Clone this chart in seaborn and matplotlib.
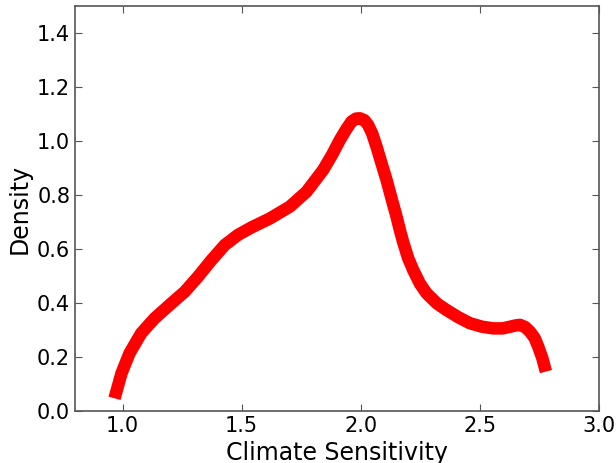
import matplotlib
matplotlib.use("Agg")
import matplotlib.pyplot as plt
import seaborn as sns
import pandas as pd

sensitivity = [0.966, 0.995, 1.029, 1.078, 1.134, 1.205, 1.261, 1.316, 1.373, 1.429,
               1.484, 1.541, 1.618, 1.702, 1.772, 1.842, 1.880, 1.912, 1.940, 1.961,
               1.980, 1.996, 2.015, 2.031, 2.048, 2.066, 2.086, 2.108, 2.129, 2.150,
               2.164, 2.178, 2.198, 2.220, 2.248, 2.276, 2.320, 2.360, 2.410, 2.458,
               2.510, 2.556, 2.595, 2.626, 2.650, 2.668, 2.690, 2.710, 2.730, 2.745,
               2.762, 2.777]
density = [0.047, 0.139, 0.214, 0.288, 0.343, 0.399, 0.442, 0.497, 0.559, 0.615,
           0.652, 0.680, 0.713, 0.757, 0.812, 0.893, 0.950, 1.004, 1.045, 1.072,
           1.083, 1.084, 1.077, 1.059, 1.027, 0.979, 0.920, 0.856, 0.787, 0.720,
           0.670, 0.625, 0.568, 0.522, 0.472, 0.436, 0.398, 0.374, 0.347, 0.325,
           0.312, 0.306, 0.306, 0.312, 0.317, 0.319, 0.311, 0.294, 0.270, 0.238,
           0.196, 0.146]

xticks = [1.0, 1.5, 2.0, 2.5, 3.0]
yticks = [0.0, 0.2, 0.4, 0.6, 0.8, 1.0, 1.2, 1.4]

df = pd.DataFrame({"Climate Sensitivity": sensitivity, "Density": density})

sns.set_style("ticks")
plt.rcParams["font.family"] = ["DejaVu Sans"]
plt.rcParams["text.color"] = "black"
plt.rcParams["axes.labelcolor"] = "black"
plt.rcParams["xtick.color"] = "black"
plt.rcParams["ytick.color"] = "black"

fig = plt.figure(figsize=(6.16, 4.63), dpi=100)
ax = fig.add_axes([75 / 616, (463 - 411) / 463, 524 / 616, 405 / 463])

sns.lineplot(data=df, x="Climate Sensitivity", y="Density", ax=ax,
             color="red", linewidth=9, sort=False, estimator=None,
             solid_capstyle="butt", solid_joinstyle="round")

ax.set_xlim(0.8, 3.0)
ax.set_ylim(0.0, 1.5)
ax.set_xticks(xticks)
ax.set_yticks(yticks)
ax.set_xticklabels([f"{t:.1f}" for t in xticks])
ax.set_yticklabels([f"{t:.1f}" for t in yticks])
ax.tick_params(direction="in", top=True, right=True, length=5, width=0.8,
               labelsize=15, color="#555555", labelcolor="black", pad=3.5)
for s in ax.spines.values():
    s.set_color("#555555")
    s.set_linewidth(1.2)
ax.set_xlabel("Climate Sensitivity", fontsize=17, color="black", labelpad=4)
ax.set_ylabel("Density", fontsize=17, color="black", labelpad=4)

fig.savefig("out.png", dpi=100)
